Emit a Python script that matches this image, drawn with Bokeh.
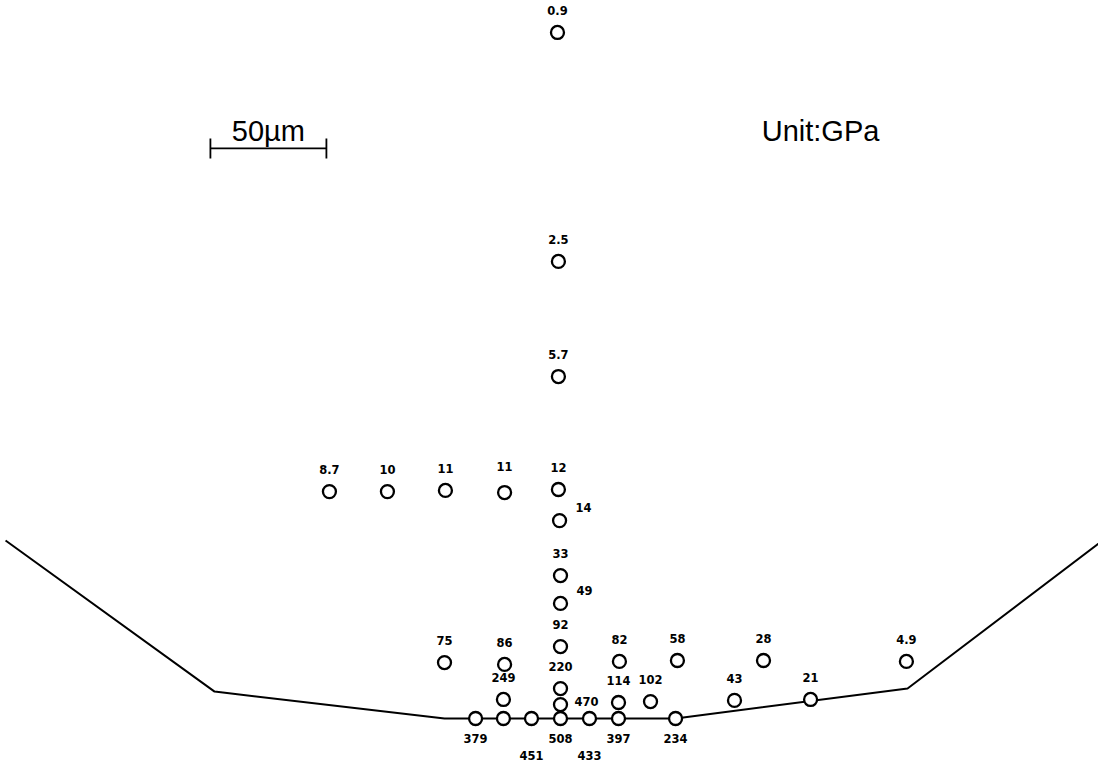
from bokeh.plotting import figure
from bokeh.models import ColumnDataSource, Range1d
from bokeh.core.properties import value
from bokeh.embed import file_html
from bokeh.resources import INLINE

# Stress values (GPa) at measuring points; positions in micrometres
# (x: from the centre line, y: height above the contact surface)
stress_labels = ["0.9", "2.5", "5.7",
                 "8.7", "10", "11", "11", "12", "14",
                 "33", "49", "92",
                 "75", "86", "82", "58", "28", "4.9",
                 "249", "220", "470", "114", "102", "43", "21",
                 "379", "", "451", "508", "433", "397", "234"]
x_um = [-1.3, -0.9, -0.9,
        -99.6, -74.6, -49.6, -24.1, -0.9, -0.4,
        0.0, 0.0, 0.0,
        -50.0, -24.1, 25.4, 50.4, 87.5, 149.1,
        -24.6, 0.0, 0.0, 25.0, 38.8, 75.0, 107.8,
        -36.6, -24.6, -12.5, 0.0, 12.5, 25.0, 49.6]
y_um = [295.7, 197.0, 147.4,
        97.8, 97.8, 98.3, 97.4, 98.7, 85.3,
        61.6, 49.6, 31.0,
        24.1, 23.3, 24.6, 25.0, 25.0, 24.6,
        8.2, 12.9, 6.0, 6.9, 7.3, 7.8, 8.2,
        0.0, 0.0, 0.0, 0.0, 0.0, 0.0, 0.0]
label_side = ["above", "above", "above",
              "above", "above", "above", "above2", "above", "right",
              "above", "right", "above",
              "above", "above", "above", "above", "above", "above",
              "above", "above", "side", "above", "above", "above", "above",
              "below", "below", "below2", "below", "below2", "below", "below"]

# Contact surface profile (micrometres)
profile_x = [-239.2, -149.1, -50.0, 49.6, 149.6, 235.3]
profile_y = [76.7, 11.6, 0.0, 0.0, 12.9, 78.0]

# Scale bar (50 micrometres)
scale_len = 50.0
scale_x0 = -150.9
scale_y = 245.7
scale_text = "50µm"
unit_text = "Unit:GPa"

offsets = {"above": (0, -22), "above2": (0, -26), "right": (24, -13),
           "side": (26, -3), "below": (0, 20), "below2": (0, 37)}
dx = [offsets[s][0] for s in label_side]
dy = [offsets[s][1] for s in label_side]

src = ColumnDataSource(dict(x=x_um, y=y_um, lab=stress_labels, dx=dx, dy=dy))

p = figure(width=1098, height=766, output_backend="svg", toolbar_location=None,
           x_range=Range1d(-241.38, 231.90), y_range=Range1d(-20.69, 309.48),
           min_border=0, background_fill_color="white", border_fill_color="white")
p.xaxis.visible = False
p.yaxis.visible = False
p.grid.visible = False
p.outline_line_color = None

p.line(profile_x, profile_y, line_color="black", line_width=2)

p.scatter("x", "y", source=src, marker="circle", size=13, line_width=2.3,
          line_color="black", fill_color="white")

p.text("x", "y", text="lab", source=src, x_offset="dx", y_offset="dy",
       text_align="center", text_baseline="middle",
       text_font=value("DejaVu Sans"), text_font_style="bold",
       text_font_size="11.5px", text_color="black")

# scale bar
p.segment(x0=[scale_x0], y0=[scale_y], x1=[scale_x0 + scale_len], y1=[scale_y],
          line_color="black", line_width=1.8)
tick_h = 4.3
p.segment(x0=[scale_x0, scale_x0 + scale_len], y0=[scale_y - tick_h, scale_y - tick_h],
          x1=[scale_x0, scale_x0 + scale_len], y1=[scale_y + tick_h, scale_y + tick_h],
          line_color="black", line_width=1.8)
p.text(x=[scale_x0 + scale_len / 2], y=[scale_y], text=[scale_text], y_offset=-17,
       text_align="center", text_baseline="alphabetic",
       text_font=value("Liberation Sans"), text_font_size="29px", text_color="black")
p.text(x=[112.1], y=[scale_y], text=[unit_text], y_offset=-17,
       text_align="center", text_baseline="alphabetic",
       text_font=value("Liberation Sans"), text_font_size="29px", text_color="black")

open("out.html", "w").write(file_html(p, INLINE))
